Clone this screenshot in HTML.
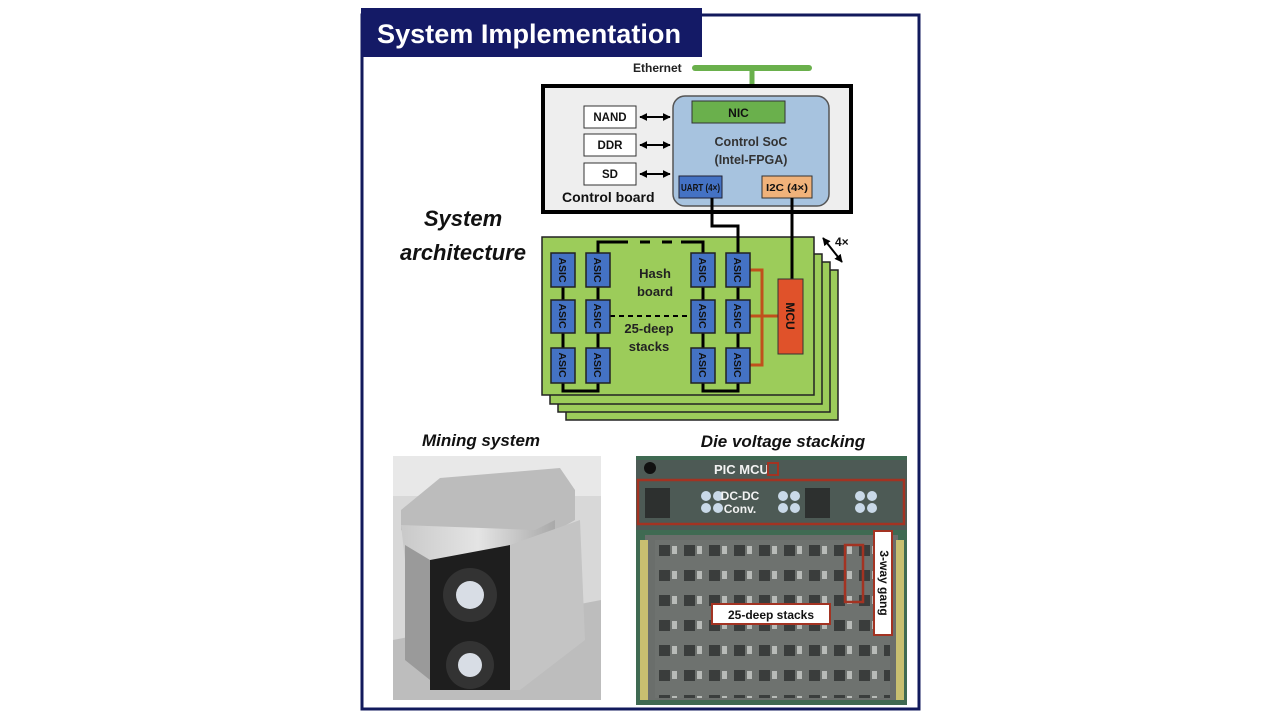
<!DOCTYPE html>
<html><head><meta charset="utf-8"><style>
body{margin:0;background:#fff;}
svg{display:block;font-family:"Liberation Sans",sans-serif;}
</style></head><body>
<svg width="1280" height="720" viewBox="0 0 1280 720" xmlns="http://www.w3.org/2000/svg">
<defs>
<pattern id="chips" x="655" y="540" width="25" height="25" patternUnits="userSpaceOnUse">
<rect width="25" height="25" fill="#6e726f"/>
<rect x="4" y="5" width="11" height="11" fill="#3a3d3c"/>
<rect x="17" y="6" width="5" height="8" fill="#b8bbb8"/>
</pattern>
<linearGradient id="met" x1="0" y1="0" x2="1" y2="0"><stop offset="0" stop-color="#c9c9c9"/><stop offset="0.5" stop-color="#e4e4e4"/><stop offset="1" stop-color="#a9a9a9"/></linearGradient>
<marker id="ah" viewBox="0 0 10 10" refX="9" refY="5" markerWidth="4" markerHeight="4" orient="auto-start-reverse"><path d="M0,0 L10,5 L0,10z" fill="#000"/></marker>
</defs>
<rect x="362" y="15" width="557" height="694" fill="#fff" stroke="#121a5c" stroke-width="3"/>
<rect x="361" y="8" width="341" height="49" fill="#141a66"/>
<text x="377" y="43" font-size="27" font-weight="bold" fill="#fff" textLength="304" lengthAdjust="spacingAndGlyphs">System Implementation</text>

<text x="633" y="72" font-size="12" font-weight="bold" fill="#222">Ethernet</text>
<line x1="695" y1="68" x2="809" y2="68" stroke="#6ab04c" stroke-width="6" stroke-linecap="round"/>
<line x1="752" y1="68" x2="752" y2="102" stroke="#6ab04c" stroke-width="5"/>

<rect x="543" y="86" width="308" height="126" fill="#eeeeee" stroke="#000" stroke-width="4"/>
<rect x="673" y="96" width="156" height="110" rx="12" fill="#a7c3df" stroke="#555" stroke-width="1.5"/>
<rect x="692" y="101" width="93" height="22" fill="#6ab04c" stroke="#333"/>
<text x="738.5" y="117" font-size="12" font-weight="bold" text-anchor="middle" fill="#111">NIC</text>
<text x="751" y="146" font-size="12.5" font-weight="bold" text-anchor="middle" fill="#333">Control SoC</text>
<text x="751" y="164" font-size="12.5" font-weight="bold" text-anchor="middle" fill="#333">(Intel-FPGA)</text>
<rect x="679" y="176" width="43" height="22" fill="#4472c4" stroke="#223"/>
<text x="681" y="191" font-size="10" font-weight="bold" fill="#111" textLength="39" lengthAdjust="spacingAndGlyphs">UART (4×)</text>
<rect x="762" y="176" width="50" height="22" fill="#f0b27a" stroke="#333"/>
<text x="766" y="191" font-size="10" font-weight="bold" fill="#111" textLength="42" lengthAdjust="spacingAndGlyphs">I2C (4×)</text>
<g fill="#fff" stroke="#333">
<rect x="584" y="106" width="52" height="22"/><rect x="584" y="134" width="52" height="22"/><rect x="584" y="163" width="52" height="22"/></g>
<g font-size="11.5" font-weight="bold" text-anchor="middle" fill="#111">
<text x="610" y="121">NAND</text><text x="610" y="149">DDR</text><text x="610" y="178">SD</text></g>
<g stroke="#000" stroke-width="2" marker-start="url(#ah)" marker-end="url(#ah)">
<line x1="640" y1="117" x2="670" y2="117"/><line x1="640" y1="145" x2="670" y2="145"/><line x1="640" y1="174" x2="670" y2="174"/></g>
<text x="562" y="202" font-size="14" font-weight="bold" fill="#111">Control board</text>

<text x="463" y="226" font-size="22" font-weight="bold" font-style="italic" text-anchor="middle" fill="#111">System</text>
<text x="463" y="260" font-size="22" font-weight="bold" font-style="italic" text-anchor="middle" fill="#111">architecture</text>

<g fill="#9ccc5a" stroke="#222" stroke-width="1.5">
<rect x="566" y="270" width="272" height="150"/>
<rect x="558" y="262" width="272" height="150"/>
<rect x="550" y="254" width="272" height="150"/>
<rect x="542" y="237" width="272" height="158"/></g>
<text x="835" y="246" font-size="12" font-weight="bold" fill="#111">4×</text>
<line x1="823" y1="238" x2="842" y2="262" stroke="#000" stroke-width="2" marker-start="url(#ah)" marker-end="url(#ah)"/>

<g stroke="#000" stroke-width="3" fill="none">
<path d="M712 198 V226 H738 V253"/>
<path d="M792 198 V279"/>
<path d="M598 253 V242 H618"/><path d="M681 242 H703 V253"/>
<line x1="563" y1="287" x2="563" y2="300"/><line x1="563" y1="333" x2="563" y2="348"/>
<line x1="598" y1="287" x2="598" y2="300"/><line x1="598" y1="333" x2="598" y2="348"/>
<line x1="703" y1="287" x2="703" y2="300"/><line x1="703" y1="333" x2="703" y2="348"/>
<line x1="738" y1="287" x2="738" y2="300"/><line x1="738" y1="333" x2="738" y2="348"/>
<path d="M563 383 V391 H598 V383"/><path d="M703 383 V391 H738 V383"/>
</g>
<g stroke="#000" stroke-width="3" stroke-dasharray="10 12"><line x1="618" y1="242" x2="681" y2="242"/></g>
<line x1="610" y1="316" x2="691" y2="316" stroke="#000" stroke-width="2" stroke-dasharray="5 4"/>
<g stroke="#c0501c" stroke-width="3" fill="none"><path d="M750 270 H762 V365 H750"/><path d="M750 316 H778"/></g>
<g fill="#4472c4" stroke="#222" stroke-width="1.5">
<rect x="551" y="253" width="24" height="34"/><rect x="586" y="253" width="24" height="34"/><rect x="691" y="253" width="24" height="34"/><rect x="726" y="253" width="24" height="34"/>
<rect x="551" y="300" width="24" height="33"/><rect x="586" y="300" width="24" height="33"/><rect x="691" y="300" width="24" height="33"/><rect x="726" y="300" width="24" height="33"/>
<rect x="551" y="348" width="24" height="35"/><rect x="586" y="348" width="24" height="35"/><rect x="691" y="348" width="24" height="35"/><rect x="726" y="348" width="24" height="35"/>
</g>
<g font-size="10.5" font-weight="bold" fill="#111" text-anchor="middle">
<text transform="translate(559,270) rotate(90)">ASIC</text><text transform="translate(594,270) rotate(90)">ASIC</text><text transform="translate(699,270) rotate(90)">ASIC</text><text transform="translate(734,270) rotate(90)">ASIC</text>
<text transform="translate(559,316) rotate(90)">ASIC</text><text transform="translate(594,316) rotate(90)">ASIC</text><text transform="translate(699,316) rotate(90)">ASIC</text><text transform="translate(734,316) rotate(90)">ASIC</text>
<text transform="translate(559,365) rotate(90)">ASIC</text><text transform="translate(594,365) rotate(90)">ASIC</text><text transform="translate(699,365) rotate(90)">ASIC</text><text transform="translate(734,365) rotate(90)">ASIC</text>
</g>
<rect x="778" y="279" width="25" height="75" fill="#e0522a" stroke="#333"/>
<text transform="translate(786,316) rotate(90)" font-size="12" font-weight="bold" fill="#111" text-anchor="middle">MCU</text>
<g font-size="13" font-weight="bold" fill="#222" text-anchor="middle">
<text x="655" y="278">Hash</text><text x="655" y="296">board</text>
<text x="649" y="333">25-deep</text><text x="649" y="351">stacks</text></g>

<text x="481" y="446" font-size="17" font-weight="bold" font-style="italic" text-anchor="middle" fill="#111">Mining system</text>
<text x="783" y="447" font-size="17" font-weight="bold" font-style="italic" text-anchor="middle" fill="#111">Die voltage stacking</text>

<rect x="393" y="456" width="208" height="244" fill="#d8d8d8"/>
<rect x="393" y="456" width="208" height="40" fill="#e8e8e8"/>
<polygon points="393,640 601,600 601,700 393,700" fill="#bdbdbd"/>
<polygon points="401,510 440,478 560,468 575,490 575,520 540,540 420,545 401,530" fill="#bcbcbc"/>
<polygon points="401,525 535,530 555,520 555,540 532,560 405,560" fill="url(#met)"/>
<polygon points="405,545 430,560 430,680 405,660" fill="#9a9a9a"/>
<polygon points="430,560 510,545 510,690 430,690" fill="#1e1e1e"/>
<polygon points="510,545 580,520 585,640 520,690 510,690" fill="#c4c4c4"/>
<circle cx="470" cy="595" r="27" fill="#333"/><circle cx="470" cy="595" r="14" fill="#d8dde5"/>
<circle cx="470" cy="665" r="24" fill="#333"/><circle cx="470" cy="665" r="12" fill="#d8dde5"/>

<rect x="636" y="456" width="271" height="249" fill="#3f6a52"/>
<rect x="645" y="535" width="253" height="165" fill="#6a6e6b"/>
<rect x="655" y="540" width="235" height="158" fill="url(#chips)"/>
<rect x="636" y="460" width="271" height="70" fill="#4d5a55"/>
<g fill="#c9d9e8"><circle cx="706" cy="496" r="5"/><circle cx="718" cy="496" r="5"/><circle cx="706" cy="508" r="5"/><circle cx="718" cy="508" r="5"/><circle cx="783" cy="496" r="5"/><circle cx="795" cy="496" r="5"/><circle cx="783" cy="508" r="5"/><circle cx="795" cy="508" r="5"/><circle cx="860" cy="496" r="5"/><circle cx="872" cy="496" r="5"/><circle cx="860" cy="508" r="5"/><circle cx="872" cy="508" r="5"/></g>
<g fill="#2d302f"><rect x="645" y="488" width="25" height="30"/><rect x="805" y="488" width="25" height="30"/></g>
<circle cx="650" cy="468" r="6" fill="#111"/>
<rect x="640" y="540" width="8" height="160" fill="#c8bf70"/>
<rect x="896" y="540" width="8" height="160" fill="#c8bf70"/>
<text x="714" y="474" font-size="13" font-weight="bold" fill="#f2f2f2">PIC MCU</text>
<rect x="768" y="463" width="10" height="12" fill="none" stroke="#a33322" stroke-width="2"/>
<rect x="638" y="480" width="266" height="44" fill="none" stroke="#a33322" stroke-width="2.5"/>
<text x="740" y="500" font-size="12" font-weight="bold" fill="#f2f2f2" text-anchor="middle">DC-DC</text>
<text x="740" y="513" font-size="12" font-weight="bold" fill="#f2f2f2" text-anchor="middle">Conv.</text>
<rect x="845" y="545" width="18" height="57" fill="none" stroke="#a33322" stroke-width="2.5"/>
<rect x="874" y="531" width="18" height="104" fill="#fff" stroke="#a33322" stroke-width="2"/>
<text transform="translate(880,583) rotate(90)" font-size="12" font-weight="bold" fill="#111" text-anchor="middle">3-way gang</text>
<rect x="712" y="604" width="118" height="20" fill="#fff" stroke="#a33322" stroke-width="2"/>
<text x="771" y="619" font-size="12" font-weight="bold" fill="#111" text-anchor="middle">25-deep stacks</text>
</svg>
</body></html>
